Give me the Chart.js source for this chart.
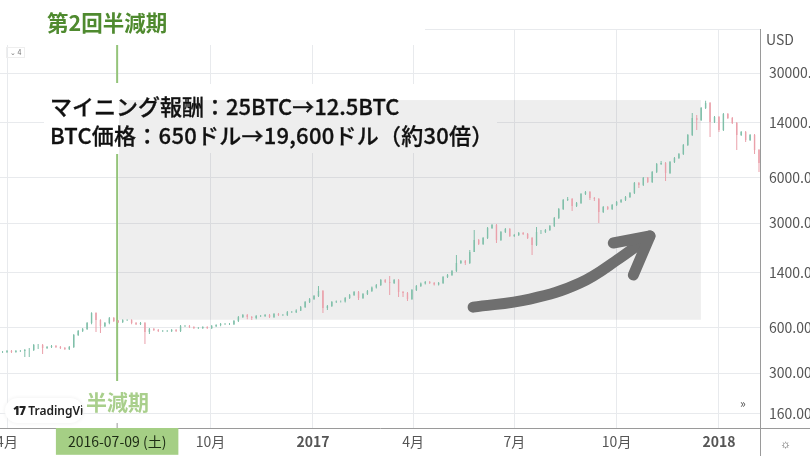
<!DOCTYPE html>
<html lang="ja">
<head>
<meta charset="utf-8">
<script src="https://cdn.jsdelivr.net/npm/chart.js@4"></script>
<style>
body{margin:0;background:#fff;width:810px;height:456px;overflow:hidden;position:relative;font-family:"Noto Sans CJK JP","Noto Sans",sans-serif}
canvas{position:absolute;left:0;top:0}
.t{position:absolute;white-space:nowrap;line-height:1}
#logo{position:absolute;left:5px;top:398px;width:78px;height:25px;background:#fff;border-radius:13px;box-shadow:0 0 4px #eee;overflow:hidden;white-space:nowrap;color:#222;font:600 12px/25px "Noto Sans",sans-serif;padding-left:8px;box-sizing:border-box}
</style>
</head>
<body>
<canvas id="grafica" width="810" height="456"></canvas>
<div class="t" style="left:47px;top:11px;font-size:21.5px;font-weight:700;color:#4f8a2f">第2回半減期</div>
<div class="t" style="left:50px;top:94px;font-size:22px;font-weight:500;color:#111;-webkit-text-stroke:.3px #111">マイニング報酬：25BTC→12.5BTC</div>
<div class="t" style="left:50px;top:123px;font-size:22px;font-weight:500;color:#111;letter-spacing:.25px;-webkit-text-stroke:.3px #111">BTC価格：650ドル→19,600ドル（約30倍）</div>
<div id="logo"><b style="font-weight:900;letter-spacing:-1px">17</b> TradingView</div>
<div class="t" style="left:86px;top:391px;font-size:21px;font-weight:700;color:#a9cf8c">半減期</div>
<div class="t" style="left:766px;top:32px;font-size:14px;color:#555">USD</div>
<div class="t" style="left:6px;top:47px;font-size:7px;color:#777;border:1px solid #eee;padding:1px 3px">⌄ 4</div>
<div class="t" style="left:740px;top:397px;font-size:12px;color:#555">»</div>
<div class="t" style="left:780px;top:437px;font-size:12px;color:#666">☼</div>
<script>
// dias contados desde 2016-04-01, una vela cada 4 dias
const tickDays=[0,99,183,275,365,456,548,640];
const tickLabels=['4月','2016-07-09 (土)','10月','2017','4月','7月','10月','2018'];
const priceTicks=[160,300,600,1400,3000,6000,14000,30000];
const halvingDay=99;

const candleDays=[-8,-4,0,4,8,12,16,20,24,28,32,36,40,44,48,52,56,60,64,68,72,76,80,84,88,92,96,100,104,108,112,116,120,124,128,132,136,140,144,148,152,156,160,164,168,172,176,180,184,188,192,196,200,204,208,212,216,220,224,228,232,236,240,244,248,252,256,260,264,268,272,276,280,284,288,292,296,300,304,308,312,316,320,324,328,332,336,340,344,348,352,356,360,364,368,372,376,380,384,388,392,396,400,404,408,412,416,420,424,428,432,436,440,444,448,452,456,460,464,468,472,476,480,484,488,492,496,500,504,508,512,516,520,524,528,532,536,540,544,548,552,556,560,564,568,572,576,580,584,588,592,596,600,604,608,612,616,620,624,628,632,636,640,644,648,652,656,660,664,668,672,676];
const opens=[414,414,414,420,414,420,420,427,427,461,461,440,447,454,447,440,433,447,537,571,589,646,753,676,616,646,697,666,656,676,676,646,635,646,563,589,580,571,571,571,580,571,616,616,607,598,598,607,598,616,626,635,635,635,666,708,730,708,697,719,719,730,708,741,730,730,764,764,782,825,891,933,977,1056,813,838,891,898,898,948,992,1040,948,1008,1056,1115,1158,1250,1212,1194,1250,1040,1024,933,1072,1140,1185,1212,1194,1167,1194,1309,1350,1436,1623,1674,1623,1923,2312,2174,2384,2781,2912,2312,2615,2739,2459,2497,2573,2535,2384,2141,2615,2615,2697,2868,3243,3724,4277,4343,3900,4084,4690,4836,4410,4343,3556,3840,3724,3960,4147,4277,4478,4762,5553,5385,6000,5639,6576,7426,7540,6476,7658,8144,8660,9930,11575,15035,14580,17515,18930,14135,15270,12500,15985,15035,13920,11575,12120,10720,11575,9199];
const closes=[414,414,420,414,420,420,427,427,461,461,440,447,454,447,440,433,447,537,571,589,646,753,676,616,646,697,666,656,676,676,646,635,646,563,589,580,571,571,571,580,571,616,616,607,598,598,607,598,616,626,635,635,635,666,708,730,708,697,719,719,730,708,741,730,730,764,764,782,825,891,933,977,1056,813,838,891,898,898,948,992,1040,948,1008,1056,1115,1158,1250,1212,1194,1250,1040,1024,933,1072,1140,1185,1212,1194,1167,1194,1309,1350,1436,1623,1674,1623,1923,2312,2174,2384,2781,2912,2312,2615,2739,2459,2497,2573,2535,2384,2141,2615,2615,2697,2868,3243,3724,4277,4343,3900,4084,4690,4836,4410,4343,3556,3840,3724,3960,4147,4277,4478,4762,5553,5385,6000,5639,6576,7426,7540,6476,7658,8144,8660,9930,11575,15035,14580,17515,18930,14135,15270,12500,15985,15035,13920,11575,12120,10720,11575,9199,7540];
const highs=[420,420,427,427,427,427,433,440,468,468,468,454,461,461,454,447,454,546,580,598,656,764,764,686,656,708,708,676,686,686,686,656,656,656,598,598,589,580,580,589,589,626,626,626,616,607,616,616,626,635,646,646,646,676,719,741,741,719,730,730,741,741,753,753,741,776,776,800,838,905,948,992,1140,1072,851,905,912,912,962,1008,1056,1056,1024,1072,1132,1176,1270,1270,1330,1270,1270,1056,1040,1089,1158,1203,1231,1231,1212,1212,1330,1371,1458,1836,1700,1700,1983,2697,2348,2421,2824,2957,2957,2656,2781,2781,2535,2615,2615,2573,2421,2824,2697,2739,2912,3293,3782,4343,4478,4410,4147,4762,4911,4911,4478,4410,3900,3900,4021,4212,4343,4548,4836,5639,5639,6090,6090,6678,7540,7777,7658,7777,8270,8790,10084,11750,16230,15740,17780,19600,19220,15500,15500,16230,16230,15270,14135,12310,12310,11750,11750,9340];
const lows=[408,408,408,408,410,414,383,383,420,433,402,433,440,440,433,427,427,440,530,563,580,635,563,554,607,635,656,646,646,666,635,626,626,468,546,571,563,563,563,563,563,563,607,598,589,589,589,589,589,607,616,626,626,626,656,697,686,676,686,708,708,697,697,719,719,719,753,753,776,813,878,919,962,753,788,825,878,885,885,933,977,919,933,992,1040,1098,1140,1194,992,1176,962,962,905,919,1056,1123,1167,1176,1150,1150,1176,1289,1330,1414,1599,1575,1599,1923,2141,2141,2348,2739,2207,2276,2573,2421,2421,2459,2497,2348,1836,2108,2535,2573,2656,2824,3193,3667,4212,3611,3840,4021,4618,4277,4212,3000,3497,3667,3667,3900,4084,4212,4410,4690,5142,5303,5553,5553,6476,7313,5726,6377,7540,8020,8528,9780,11400,12500,14360,17250,11225,13920,12120,12310,14800,13710,9199,11400,10400,10560,8660,6578];

// flecha gris
const arrowDays=[419,470,515,551,578];
const arrowPrices=[825,933,1194,1754,2459];
const arrowHeadDays=[545,578,563];
const arrowHeadPrices=[2207,2459,1350];

// zona gris
const shadeFromDay=100.7, shadeToDay=623.8, shadeHigh=19800, shadeLow=680;

const upColor='#7fbfa9', downColor='#eaa0aa';
function velaColor(ctx){
  return closes[ctx.dataIndex]>=opens[ctx.dataIndex] ? upColor : downColor;
}
var cuerpos=candleDays.map((d,i)=>({x:d,y:[Math.min(opens[i],closes[i]),Math.max(opens[i],closes[i])]}));
var mechas=candleDays.map((d,i)=>({x:d,y:[lows[i],highs[i]]}));

const fondo={
  id:'fondo',
  beforeDatasetsDraw(chart){
    const c=chart.ctx, x=chart.scales.x, y=chart.scales.y;
    c.save();
    // blanco sobre la rejilla, detras de los textos
    c.fillStyle='#fff';
    c.fillRect(0,29,425,16);
    c.fillRect(44,84,453,69);
    c.fillStyle='#e8eaed';
    c.fillRect(425,29,335,1);
    c.fillStyle='rgba(120,120,120,0.125)';
    const x0=x.getPixelForValue(shadeFromDay), x1=x.getPixelForValue(shadeToDay);
    const y0=y.getPixelForValue(shadeHigh), y1=y.getPixelForValue(shadeLow);
    c.fillRect(x0,y0,x1-x0,y1-y0);
    // linea del halving
    const hx=x.getPixelForValue(halvingDay);
    c.fillStyle='#94c47a';
    c.fillRect(hx-1,45,2,38);
    c.fillRect(hx-1,154,2,227);
    c.fillStyle='#999';
    c.fillRect(hx-0.5,423,1,5);
    // ejes hasta el borde
    c.fillStyle='#9a9a9a';
    c.fillRect(760,428,50,1);
    c.fillRect(760,428,1,28);
    c.restore();
  }
};

var cmyChart=new Chart(document.getElementById('grafica').getContext('2d'),{
  type:'bar',
  data:{
    datasets:[
      {type:'line',data:arrowHeadDays.map((d,i)=>({x:d,y:arrowHeadPrices[i]})),borderColor:'#6f6f6f',borderWidth:11,borderCapStyle:'round',borderJoinStyle:'round',pointRadius:0,tension:0},
      {type:'line',data:arrowDays.map((d,i)=>({x:d,y:arrowPrices[i]})),borderColor:'#6f6f6f',borderWidth:11,borderCapStyle:'round',borderJoinStyle:'round',pointRadius:0,tension:0.4},
      {data:cuerpos,backgroundColor:velaColor,barThickness:1.4,inflateAmount:0,grouped:false},
      {data:mechas,backgroundColor:velaColor,barThickness:1,inflateAmount:0,grouped:false}
    ]
  },
  options:{
    responsive:false,
    animation:false,
    layout:{padding:{top:29,left:0,right:0,bottom:0}},
    plugins:{legend:{display:false},tooltip:{enabled:false}},
    scales:{
      x:{
        type:'linear',min:-6.3,max:676.9,offset:false,
        afterBuildTicks(s){s.ticks=tickDays.map(v=>({value:v}));},
        afterFit(s){s.height=28;s.paddingLeft=0;s.paddingRight=0;},
        grid:{color:ctx=>ctx.index===1?'rgba(0,0,0,0)':'#e8eaed',drawTicks:false,offset:false},
        border:{color:'#9a9a9a'},
        ticks:{
          autoSkip:false,maxRotation:0,padding:5,
          font:ctx=>({family:'"Noto Sans CJK JP","Noto Sans",sans-serif',size:14,weight:(ctx.index===3||ctx.index===7)?'700':'400'}),
          color:ctx=>ctx.index===1?'#1d2b14':'#555',
          showLabelBackdrop:ctx=>ctx.index===1,
          backdropColor:'#a5cf85',
          backdropPadding:{x:12,y:5},
          callback:(v,i)=>tickLabels[i]
        }
      },
      y:{
        type:'logarithmic',position:'right',min:129,max:58970,
        afterBuildTicks(s){s.ticks=priceTicks.map(v=>({value:v}));},
        afterFit(s){s.width=50;s.paddingTop=0;s.paddingBottom=0;},
        grid:{color:'#e8eaed',drawTicks:false},
        border:{color:'#9a9a9a'},
        ticks:{
          autoSkip:false,padding:9,color:'#555',crossAlign:'near',
          font:{family:'"Noto Sans CJK JP","Noto Sans",sans-serif',size:14},
          callback:v=>v.toFixed(2)
        }
      }
    }
  },
  plugins:[fondo]
});
</script>
</body>
</html>
